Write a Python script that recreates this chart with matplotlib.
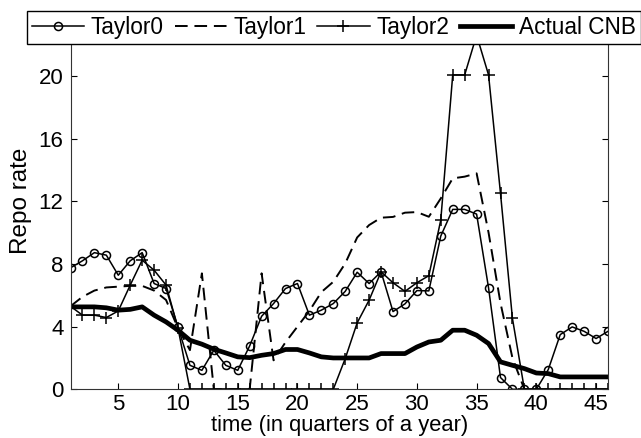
import numpy as np
import matplotlib
matplotlib.use("Agg")
import matplotlib.pyplot as plt

plt.rcParams['font.family'] = ['Liberation Sans', 'DejaVu Sans']

# quarters
t = list(range(1, 47))

taylor0 = [7.75, 8.2, 8.72, 8.56, 7.28, 8.2, 8.72, 6.75, 6.43, 3.96,
           1.53, 1.21, 2.49, 1.53, 1.21, 2.77, 4.66, 5.47, 6.43, 6.75,
           4.73, 5.05, 5.47, 6.25, 7.47, 6.75, 7.5, 4.96, 5.45, 6.3,
           6.28, 9.78, 11.48, 11.48, 11.18, 6.47, 0.75, 0.0, 0.0, 0.0,
           1.26, 3.49, 3.98, 3.7, 3.24, 3.7]

taylor1 = [5.3, 5.9, 6.3, 6.5, 6.55, 6.6, 6.6, 6.3, 5.7, 3.9,
           2.5, 7.4, 0.0, 0.0, 0.0, 0.0, 7.4, 1.85, 3.0, 4.0,
           5.0, 6.2, 6.86, 8.03, 9.69, 10.48, 10.95, 11.0, 11.27, 11.31,
           11.01, 12.18, 13.46, 13.57, 13.78, 10.0, 5.5, 2.0, 0.0, 0.0,
           0.0, 0.0, 0.0, 0.0, 0.0, 0.0]

taylor2 = [5.3, 4.73, 4.73, 4.58, 5.0, 6.65, 8.24, 7.6, 6.65, 3.9,
           0.0, 0.0, 0.0, 0.0, 0.0, 0.0, 0.0, 0.0, 0.0, 0.0,
           0.0, 0.0, 0.0, 1.96, 4.24, 5.69, 7.5, 6.8, 6.25, 6.8,
           7.25, 10.8, 20.06, 20.06, 22.6, 20.06, 12.5, 4.52, 0.0, 0.0,
           0.0, 0.0, 0.0, 0.0, 0.0, 0.0]

actual_cnb = [5.26, 5.26, 5.26, 5.2, 5.05, 5.1, 5.26, 4.73, 4.3, 3.77,
              3.13, 2.88, 2.56, 2.32, 2.07, 2.02, 2.17, 2.28, 2.54, 2.54,
              2.32, 2.07, 2.0, 2.0, 2.0, 2.0, 2.28, 2.28, 2.28, 2.7,
              3.02, 3.13, 3.77, 3.77, 3.45, 2.92, 1.75, 1.53, 1.32, 1.04,
              1.0, 0.79, 0.79, 0.79, 0.79, 0.79]

xticks = [5, 10, 15, 20, 25, 30, 35, 40, 45]
yticks = [0, 4, 8, 12, 16, 20]

W, H = 641, 438
fig = plt.figure(figsize=(W / 100, H / 100), dpi=100)
ax = fig.add_axes([70.5 / W, 1 - 389.3 / H, (608 - 70.5) / W, (389.3 - 13.2) / H])

ax.plot(t, taylor0, color='black', lw=1.1, marker='o', markersize=5.8,
        markerfacecolor='none', markeredgewidth=1.1, label='Taylor0')
ax.plot(t, taylor1, color='black', lw=1.4, ls=(0, (6.5, 3.5)), label='Taylor1')
ax.plot(t, taylor2, color='black', lw=1.1, marker='+', markersize=9,
        markeredgewidth=1.1, label='Taylor2')
ax.plot(t, actual_cnb, color='black', lw=3.4, label='Actual CNB')

ax.set_xlim(1, 46)
ax.set_ylim(0, 24)
ax.set_xticks(xticks)
ax.set_yticks(yticks)
ax.tick_params(direction='in', length=4, width=0.8, labelsize=16,
               top=True, right=True, pad=5, colors='black')
ax.tick_params(axis='x', pad=3.5)
for s in ax.spines.values():
    s.set_linewidth(0.8)
    s.set_color('#333333')

ax.set_xlabel('time (in quarters of a year)', fontsize=15.8, labelpad=0)
ax.set_ylabel('Repo rate', fontsize=17.5, labelpad=5)

leg = ax.legend(loc='upper left', bbox_to_anchor=(27 / W, 1 - 11 / H),
                bbox_transform=fig.transFigure, ncol=4, fontsize=16.3,
                frameon=True, fancybox=False, framealpha=1, edgecolor='black',
                borderaxespad=0, borderpad=0.22, handlelength=2.3,
                handletextpad=0.3, columnspacing=0.48)
leg.get_frame().set_linewidth(1.0)
leg.set_zorder(10)

plt.savefig('out.png', dpi=100)
